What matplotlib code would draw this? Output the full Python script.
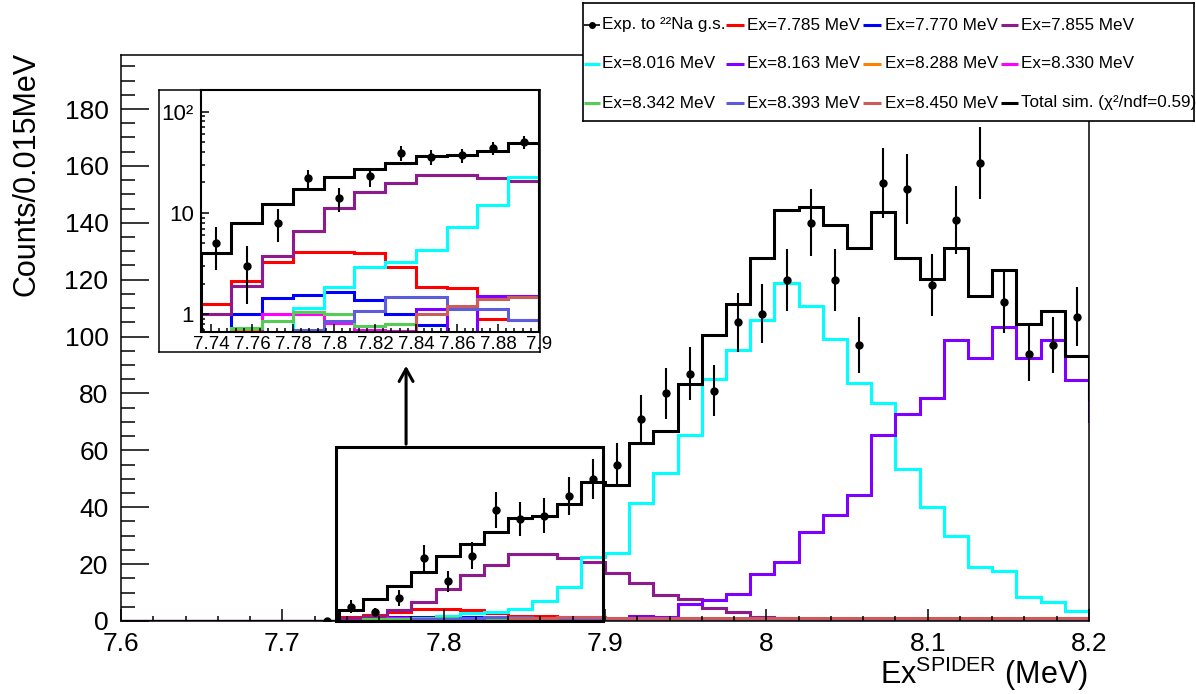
import numpy as np
import matplotlib
matplotlib.use('Agg')
import matplotlib.pyplot as plt
from matplotlib.patches import Rectangle
from matplotlib.ticker import MultipleLocator, FixedLocator, FixedFormatter, LogLocator, FuncFormatter, NullFormatter

plt.rcParams['font.family'] = ['Liberation Sans', 'DejaVu Sans']
plt.rcParams['mathtext.fontset'] = 'custom'
plt.rcParams['mathtext.rm'] = 'Liberation Sans'
plt.rcParams['mathtext.it'] = 'Liberation Sans:italic'

# bins of 0.015 MeV starting at 7.6 MeV (last one is beyond the axis)
x_start = 7.6
bin_width = 0.015

exp_counts = [np.nan, np.nan, np.nan, np.nan, np.nan, np.nan, np.nan, np.nan, 0,
              5, 3, 8, 22, 14, 23, 39, 36, 37, 44, 50,
              55, 71, 80, 87, 81, 105, 108, 120, 140, 120,
              97, 154, 152, 118, 141, 161, 112, 94, 97, 107, np.nan]

total_sim = [0, 0, 0, 0, 0, 0, 0, 0, 0,
             4.0, 7.9, 12.2, 17.1, 22.7, 27.0, 31.2, 36.3, 36.9, 41.0, 48.7,
             47.7, 62.5, 66.9, 83.2, 100.6, 111.5, 127.5, 144.5, 145.7, 139.1,
             131.0, 143.7, 127.7, 120.4, 131.0, 114.3, 123.4, 104.4, 109.1, 93.0, 78.0]

ex_7785 = [0, 0, 0, 0, 0, 0, 0, 0, 0,
           1.26, 2.13, 3.3, 4.14, 4.08, 3.99, 2.95, 1.87, 1.8, 0.91, 0.88,
           0.5, 0.3, 0.2, 0.1, 0, 0, 0, 0, 0, 0,
           0, 0, 0, 0, 0, 0, 0, 0, 0, 0, 0]
ex_7770 = [0, 0, 0, 0, 0, 0, 0, 0, 0,
           0.5, 1.0, 1.44, 1.55, 1.65, 1.38, 1.0, 0.79, 0.5, 0.4, 0.3,
           0.2, 0.1, 0, 0, 0, 0, 0, 0, 0, 0,
           0, 0, 0, 0, 0, 0, 0, 0, 0, 0, 0]
ex_7855 = [0, 0, 0, 0, 0, 0, 0, 0, 0,
           1.0, 1.9, 3.8, 6.7, 11.1, 16.2, 19.8, 23.6, 23.6, 22.2, 20.6,
           17.0, 13.3, 9.1, 7.8, 4.5, 3.3, 1.5, 1.0, 0.6, 0.4,
           0.3, 0.2, 0.1, 0.1, 0, 0, 0, 0, 0, 0, 0]
ex_8016 = [0, 0, 0, 0, 0, 0, 0, 0, 0,
           0, 0.3, 0.5, 1.15, 1.85, 2.9, 3.3, 4.3, 7.2, 11.9, 22.5,
           24.0, 41.6, 51.9, 65.4, 85.0, 95.3, 105.8, 118.7, 110.8, 99.1,
           83.6, 76.5, 53.5, 40.2, 30.0, 19.1, 17.6, 8.4, 6.6, 3.6, 3.0]
ex_8163 = [0, 0, 0, 0, 0, 0, 0, 0, 0,
           0, 0, 0, 0, 0, 0.3, 0.5, 1.13, 0.5, 1.53, 1.53,
           0.6, 1.9, 1.5, 6.0, 7.4, 9.5, 16.5, 20.9, 31.4, 37.3,
           44.3, 65.3, 72.7, 78.4, 98.9, 92.4, 103.4, 92.4, 98.9, 84.9, 70.3]
ex_8288 = [0, 0, 0, 0, 0, 0, 0, 0, 0,
           0, 0.72, 0, 0, 0, 0, 0, 0, 0, 0, 0,
           0, 0, 0, 0, 0, 0, 0, 0, 0, 0,
           0, 0, 0, 0.1, 0.15, 0.2, 0.4, 0.7, 0.9, 1.2, 1.2]
ex_8330 = [0, 0, 0, 0, 0, 0, 0, 0, 0,
           0, 0.3, 1.0, 1.0, 0.83, 0.7, 0.68, 0, 0, 0, 0,
           0, 0, 0, 0, 0, 0, 0, 0, 0, 0,
           0, 0, 0, 0, 0, 0, 0, 0, 0, 0, 0]
ex_8342 = [0, 0, 0, 0, 0, 0, 0, 0, 0,
           0, 0.73, 0.86, 1.05, 1.0, 0.76, 0.81, 0.6, 0.6, 0.6, 0.6,
           0.5, 0.4, 0.3, 0.2, 0.2, 0.2, 0.2, 0.2, 0.2, 0.2,
           0.2, 0.2, 0.2, 0.2, 0.2, 0.2, 0.2, 0.2, 0.2, 0.2, 0.2]
ex_8393 = [0, 0, 0, 0, 0, 0, 0, 0, 0,
           0, 0, 0, 0.7, 0.86, 1.08, 1.48, 1.47, 1.13, 1.12, 0.89,
           0.8, 0.5, 0.5, 0.5, 0.5, 0.5, 0.5, 0.5, 0.5, 0.5,
           0.5, 0.5, 0.5, 0.5, 0.5, 0.5, 0.5, 0.5, 0.5, 0.5, 0.5]
ex_8450 = [0, 0, 0, 0, 0, 0, 0, 0, 0,
           0, 0, 0, 0, 0, 0, 0, 1.0, 1.21, 1.41, 1.47,
           1.2, 1.2, 1.2, 1.2, 1.2, 1.2, 1.2, 1.2, 1.2, 1.2,
           1.2, 1.2, 1.2, 1.2, 1.2, 1.2, 1.2, 1.2, 1.2, 1.2, 1.2]

levels = [7.785, 7.770, 7.855, 8.016, 8.163, 8.288, 8.330, 8.342, 8.393, 8.450]
sims = [ex_7785, ex_7770, ex_7855, ex_8016, ex_8163, ex_8288, ex_8330, ex_8342, ex_8393, ex_8450]
colors = ['#ff0000', '#0000ff', '#8e1a8e', '#00ffff', '#8000ff',
          '#ff8000', '#ff00ff', '#55cc55', '#5c5cdc', '#cc5c5c']

x_ticks_main = [7.6, 7.7, 7.8, 7.9, 8.0, 8.1, 8.2]
x_ticks_inset = [7.74, 7.76, 7.78, 7.8, 7.82, 7.84, 7.86, 7.88, 7.9]
inset_xlim = (7.735, 7.9)
inset_ylim = (0.675, 163)
zoom_height = 61.2

W, H = 1196, 694
fig = plt.figure(figsize=(W / 100, H / 100), dpi=100)

def fx(px):
    return px / W

def fy(py):
    return 1 - py / H

edges = x_start + bin_width * np.arange(len(total_sim) + 1)
centers = 0.5 * (edges[:-1] + edges[1:])
exp_arr = np.array(exp_counts, dtype=float)
exp_err = np.sqrt(exp_arr)

LW = 2.2

def draw_hists(a):
    for vals, col in zip(sims, colors):
        a.stairs(vals, edges, color=col, lw=LW, baseline=None)
    a.stairs(total_sim, edges, color='black', lw=LW, baseline=None)
    a.errorbar(centers, exp_arr, yerr=exp_err, fmt='o', color='black', ms=5,
               elinewidth=1.5, capsize=0, zorder=5)

# ---- main plot
ax = fig.add_axes([fx(121), fy(621), fx(1089) - fx(121), fy(55) - fy(621)], zorder=0)
draw_hists(ax)
ax.set_xlim(7.6, 8.2)
ax.set_ylim(0, 199)
ax.xaxis.set_major_locator(FixedLocator(x_ticks_main))
ax.xaxis.set_minor_locator(MultipleLocator(0.02))
ax.xaxis.set_major_formatter(FuncFormatter(lambda v, p: '%g' % v))
ax.yaxis.set_major_locator(MultipleLocator(20))
ax.yaxis.set_minor_locator(MultipleLocator(5))
ax.tick_params(which='both', direction='in', top=False, right=False, width=1.1)
ax.tick_params(axis='y', which='major', length=20, pad=9, labelsize=19)
ax.tick_params(axis='y', which='minor', length=10)
ax.tick_params(axis='x', which='major', length=8.6, pad=8, labelsize=19)
ax.tick_params(axis='x', which='minor', length=3.5)
for s in ax.spines.values():
    s.set_linewidth(1.1)

# zoom box and arrow to the inset
ax.add_patch(Rectangle((inset_xlim[0] - 0.002, 0), inset_xlim[1] - inset_xlim[0] + 0.001, zoom_height,
                       fill=False, ec='black', lw=2.2, zorder=6, clip_on=False))
ax.annotate('', xy=(7.7767, 90.7), xytext=(7.7767, zoom_height),
            arrowprops=dict(arrowstyle='->,head_length=0.9,head_width=0.5', color='black', lw=2.2))

fig.text(fx(27), fy(52), 'Counts/0.015MeV', rotation=90, ha='center', va='top', fontsize=22)
fig.text(fx(1088), fy(684), r'Ex$^{\mathrm{SPIDER}}$ (MeV)', ha='right', va='baseline', fontsize=22)

# ---- inset pad and inset
pad = fig.add_axes([fx(159), fy(352), fx(540) - fx(159), fy(90) - fy(352)], zorder=1)
pad.set_xticks([])
pad.set_yticks([])
for s in pad.spines.values():
    s.set_linewidth(1.1)

ins = fig.add_axes([fx(200.7), fy(331.7), fx(539) - fx(200.7), fy(90) - fy(331.7)], zorder=2)
ins.set_yscale('log')
draw_hists(ins)
ins.set_xlim(*inset_xlim)
ins.set_ylim(*inset_ylim)
ins.yaxis.set_major_locator(FixedLocator([1, 10, 100]))
ins.yaxis.set_major_formatter(FixedFormatter(['1', '10', '10²']))
ins.yaxis.set_minor_locator(LogLocator(base=10, subs=np.arange(2, 10)))
ins.yaxis.set_minor_formatter(NullFormatter())
ins.xaxis.set_major_locator(FixedLocator(x_ticks_inset))
ins.xaxis.set_major_formatter(FuncFormatter(lambda v, p: '%g' % v))
ins.xaxis.set_minor_locator(MultipleLocator(0.004))
ins.tick_params(which='both', direction='in', top=False, right=False, width=1.1, labelsize=13.5)
ins.tick_params(which='major', length=6)
ins.tick_params(which='minor', length=3)
ins.tick_params(axis='y', pad=5, labelsize=16)
ins.tick_params(axis='x', pad=3)
for s in ins.spines.values():
    s.set_linewidth(1.5)

# ---- legend box (drawn by hand, ROOT style with equal columns)
leg = fig.add_axes([fx(583), fy(121), fx(1194) - fx(583), fy(3) - fy(121)], zorder=3)
leg.set_xlim(583, 1194)
leg.set_ylim(121, 3)
leg.set_xticks([])
leg.set_yticks([])
for s in leg.spines.values():
    s.set_linewidth(1.2)

labels = ['Exp. to ²²Na g.s.'] + ['Ex=%.3f MeV' % e for e in levels] + ['Total sim. (χ²/ndf=0.59)']
lcolors = ['black'] + colors + ['black']
col_line = [(584, 600), (726, 744), (863, 881), (1001, 1018)]
col_text = [602, 747, 885, 1021]
row_y = [25, 64, 103]
for i, (lab, col) in enumerate(zip(labels, lcolors)):
    r, c = divmod(i, 4)
    x0, x1 = col_line[c]
    y = row_y[r]
    leg.plot([x0, x1], [y, y], color=col, lw=2.2 if i > 0 else 1.2, solid_capstyle='butt')
    if i == 0:
        leg.plot([(x0 + x1) / 2], [y], 'o', color='black', ms=4)
    leg.text(col_text[c], y, lab, ha='left', va='center', fontsize=12.3)

fig.savefig('out.png', dpi=100)
